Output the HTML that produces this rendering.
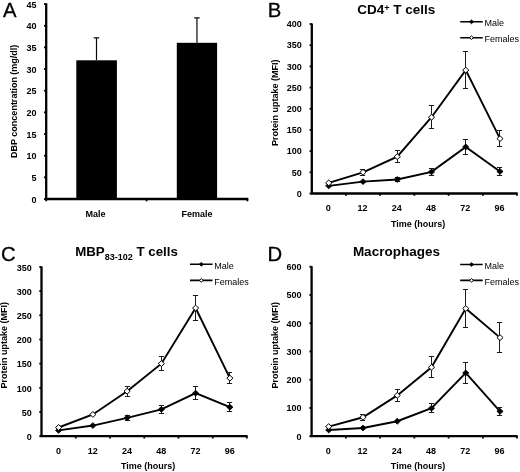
<!DOCTYPE html>
<html><head><meta charset="utf-8"><title>Figure</title>
<style>
html,body{margin:0;padding:0;background:#fff;}
body{width:520px;height:472px;overflow:hidden;}
svg{display:block;font-family:"Liberation Sans", sans-serif;fill:#000;will-change:transform;opacity:0.999;}
</style></head><body>
<svg width="520" height="472" viewBox="0 0 520 472">
<rect width="520" height="472" fill="#fff"/>
<text x="3" y="16.7" font-size="20.3" font-weight="normal" text-anchor="start" stroke="#000" stroke-width="0.3">A</text>
<rect x="76.3" y="60.3" width="40.6" height="138.70" fill="#000"/>
<rect x="176.8" y="42.8" width="40.3" height="156.20" fill="#000"/>
<path d="M96.50 37.90V60.30M93.80 37.90H99.20" stroke="#0a0a0a" stroke-width="1.2" fill="none"/>
<path d="M196.95 17.90V42.80M194.25 17.90H199.65" stroke="#0a0a0a" stroke-width="1.2" fill="none"/>
<path d="M46.2 3.2V200.1M45.1 199H248.3" stroke="#000" stroke-width="2.3" fill="none"/>
<path d="M44 199.00H46.2" stroke="#000" stroke-width="1.8"/>
<text x="36.6" y="202.6" font-size="9" font-weight="bold" text-anchor="end" >0</text>
<path d="M44 177.34H46.2" stroke="#000" stroke-width="1.8"/>
<text x="36.6" y="180.94" font-size="9" font-weight="bold" text-anchor="end" >5</text>
<path d="M44 155.69H46.2" stroke="#000" stroke-width="1.8"/>
<text x="36.6" y="159.29" font-size="9" font-weight="bold" text-anchor="end" >10</text>
<path d="M44 134.03H46.2" stroke="#000" stroke-width="1.8"/>
<text x="36.6" y="137.63" font-size="9" font-weight="bold" text-anchor="end" >15</text>
<path d="M44 112.38H46.2" stroke="#000" stroke-width="1.8"/>
<text x="36.6" y="115.98" font-size="9" font-weight="bold" text-anchor="end" >20</text>
<path d="M44 90.72H46.2" stroke="#000" stroke-width="1.8"/>
<text x="36.6" y="94.32" font-size="9" font-weight="bold" text-anchor="end" >25</text>
<path d="M44 69.07H46.2" stroke="#000" stroke-width="1.8"/>
<text x="36.6" y="72.67" font-size="9" font-weight="bold" text-anchor="end" >30</text>
<path d="M44 47.41H46.2" stroke="#000" stroke-width="1.8"/>
<text x="36.6" y="51.01" font-size="9" font-weight="bold" text-anchor="end" >35</text>
<path d="M44 25.76H46.2" stroke="#000" stroke-width="1.8"/>
<text x="36.6" y="29.36" font-size="9" font-weight="bold" text-anchor="end" >40</text>
<path d="M44 4.10H46.2" stroke="#000" stroke-width="1.8"/>
<text x="36.6" y="7.7" font-size="9" font-weight="bold" text-anchor="end" >45</text>
<path d="M46.2 199V201.3" stroke="#000" stroke-width="1.8"/>
<path d="M146.6 199V201.3" stroke="#000" stroke-width="1.8"/>
<path d="M247.4 199V201.3" stroke="#000" stroke-width="1.8"/>
<text x="95.4" y="216.9" font-size="9" font-weight="bold" text-anchor="middle" >Male</text>
<text x="197" y="216.9" font-size="9" font-weight="bold" text-anchor="middle" >Female</text>
<text x="0" y="0" font-size="9" font-weight="bold" text-anchor="middle" transform="translate(17.2 101.3) rotate(-90)">DBP concentration (mg/dl)</text>
<text x="267.8" y="17" font-size="20.3" font-weight="normal" text-anchor="start" stroke="#000" stroke-width="0.3">B</text>
<text x="396.3" y="13.7" font-size="13.5" font-weight="bold" text-anchor="middle" >CD4<tspan font-size="9" dy="-2.5">+</tspan><tspan dy="2.5"> T cells</tspan></text>
<path d="M311.8 23.5V194.6M310.7 193.5H517.72" stroke="#000" stroke-width="2.3" fill="none"/>
<path d="M309.6 193.50H311.8" stroke="#000" stroke-width="1.8"/>
<text x="301.8" y="196.8" font-size="9" font-weight="bold" text-anchor="end" >0</text>
<path d="M309.6 172.31H311.8" stroke="#000" stroke-width="1.8"/>
<text x="301.8" y="175.61" font-size="9" font-weight="bold" text-anchor="end" >50</text>
<path d="M309.6 151.12H311.8" stroke="#000" stroke-width="1.8"/>
<text x="301.8" y="154.42" font-size="9" font-weight="bold" text-anchor="end" >100</text>
<path d="M309.6 129.94H311.8" stroke="#000" stroke-width="1.8"/>
<text x="301.8" y="133.24" font-size="9" font-weight="bold" text-anchor="end" >150</text>
<path d="M309.6 108.75H311.8" stroke="#000" stroke-width="1.8"/>
<text x="301.8" y="112.05" font-size="9" font-weight="bold" text-anchor="end" >200</text>
<path d="M309.6 87.56H311.8" stroke="#000" stroke-width="1.8"/>
<text x="301.8" y="90.86" font-size="9" font-weight="bold" text-anchor="end" >250</text>
<path d="M309.6 66.38H311.8" stroke="#000" stroke-width="1.8"/>
<text x="301.8" y="69.67" font-size="9" font-weight="bold" text-anchor="end" >300</text>
<path d="M309.6 45.19H311.8" stroke="#000" stroke-width="1.8"/>
<text x="301.8" y="48.49" font-size="9" font-weight="bold" text-anchor="end" >350</text>
<path d="M309.6 24.00H311.8" stroke="#000" stroke-width="1.8"/>
<text x="301.8" y="27.3" font-size="9" font-weight="bold" text-anchor="end" >400</text>
<path d="M345.87 193.5V195.8" stroke="#000" stroke-width="1.8"/>
<path d="M380.12 193.5V195.8" stroke="#000" stroke-width="1.8"/>
<path d="M414.37 193.5V195.8" stroke="#000" stroke-width="1.8"/>
<path d="M448.62 193.5V195.8" stroke="#000" stroke-width="1.8"/>
<path d="M482.87 193.5V195.8" stroke="#000" stroke-width="1.8"/>
<path d="M516.92 193.5V195.8" stroke="#000" stroke-width="1.8"/>
<text x="328.35" y="211.3" font-size="9" font-weight="bold" text-anchor="middle" >0</text>
<text x="362.6" y="211.3" font-size="9" font-weight="bold" text-anchor="middle" >12</text>
<text x="396.85" y="211.3" font-size="9" font-weight="bold" text-anchor="middle" >24</text>
<text x="431.1" y="211.3" font-size="9" font-weight="bold" text-anchor="middle" >48</text>
<text x="465.35" y="211.3" font-size="9" font-weight="bold" text-anchor="middle" >72</text>
<text x="499.6" y="211.3" font-size="9" font-weight="bold" text-anchor="middle" >96</text>
<text x="418.2" y="226.6" font-size="9" font-weight="bold" text-anchor="middle" >Time (hours)</text>
<text x="0" y="0" font-size="9" font-weight="bold" text-anchor="middle" transform="translate(277.8 102.8) rotate(-90)">Protein uptake (MFI)</text>
<polyline points="328.75,185.87 363.00,181.63 397.25,179.52 431.50,171.89 465.75,146.89 500.00,171.47" fill="none" stroke="#000" stroke-width="1.9" stroke-linejoin="miter"/>
<polyline points="328.75,182.91 363.00,172.31 397.25,156.63 431.50,117.22 465.75,70.19 500.00,138.62" fill="none" stroke="#000" stroke-width="1.9" stroke-linejoin="miter"/>
<path d="M397.50 177.50V181.50M394.90 177.50H400.10M394.90 181.50H400.10" stroke="#1c1c1c" stroke-width="1" fill="none"/>
<path d="M431.50 168.50V175.50M428.90 168.50H434.10M428.90 175.50H434.10" stroke="#1c1c1c" stroke-width="1" fill="none"/>
<path d="M465.50 139.50V154.50M462.90 139.50H468.10M462.90 154.50H468.10" stroke="#1c1c1c" stroke-width="1" fill="none"/>
<path d="M499.50 167.50V175.50M496.90 167.50H502.10M496.90 175.50H502.10" stroke="#1c1c1c" stroke-width="1" fill="none"/>
<polygon points="325.64,185.87 328.75,182.97 331.85,185.87 328.75,188.77" fill="#000" stroke="#000" stroke-width="0.8"/>
<polygon points="359.89,181.63 363.00,178.73 366.10,181.63 363.00,184.53" fill="#000" stroke="#000" stroke-width="0.8"/>
<polygon points="394.14,179.52 397.25,176.62 400.35,179.52 397.25,182.42" fill="#000" stroke="#000" stroke-width="0.8"/>
<polygon points="428.39,171.89 431.50,168.99 434.60,171.89 431.50,174.79" fill="#000" stroke="#000" stroke-width="0.8"/>
<polygon points="462.64,146.89 465.75,143.99 468.85,146.89 465.75,149.79" fill="#000" stroke="#000" stroke-width="0.8"/>
<polygon points="496.89,171.47 500.00,168.56 503.10,171.47 500.00,174.37" fill="#000" stroke="#000" stroke-width="0.8"/>
<path d="M362.50 169.50V175.50M359.90 169.50H365.10M359.90 175.50H365.10" stroke="#1c1c1c" stroke-width="1" fill="none"/>
<path d="M397.50 150.50V162.50M394.90 150.50H400.10M394.90 162.50H400.10" stroke="#1c1c1c" stroke-width="1" fill="none"/>
<path d="M431.50 105.50V128.50M428.90 105.50H434.10M428.90 128.50H434.10" stroke="#1c1c1c" stroke-width="1" fill="none"/>
<path d="M465.50 51.50V88.50M462.90 51.50H468.10M462.90 88.50H468.10" stroke="#1c1c1c" stroke-width="1" fill="none"/>
<path d="M499.50 130.50V146.50M496.90 130.50H502.10M496.90 146.50H502.10" stroke="#1c1c1c" stroke-width="1" fill="none"/>
<polygon points="325.64,182.91 328.75,180.01 331.85,182.91 328.75,185.81" fill="#fff" stroke="#000" stroke-width="1"/>
<polygon points="359.89,172.31 363.00,169.41 366.10,172.31 363.00,175.21" fill="#fff" stroke="#000" stroke-width="1"/>
<polygon points="394.14,156.63 397.25,153.73 400.35,156.63 397.25,159.53" fill="#fff" stroke="#000" stroke-width="1"/>
<polygon points="428.39,117.22 431.50,114.32 434.60,117.22 431.50,120.12" fill="#fff" stroke="#000" stroke-width="1"/>
<polygon points="462.64,70.19 465.75,67.29 468.85,70.19 465.75,73.09" fill="#fff" stroke="#000" stroke-width="1"/>
<polygon points="496.89,138.62 500.00,135.72 503.10,138.62 500.00,141.52" fill="#fff" stroke="#000" stroke-width="1"/>
<path d="M460.2 21.8H482.7M460.2 37.7H482.7" stroke="#000" stroke-width="1.6"/>
<polygon points="469.40,21.80 471.50,19.90 473.60,21.80 471.50,23.70" fill="#000" stroke="#000" stroke-width="0.8"/>
<polygon points="469.60,37.70 471.50,35.90 473.40,37.70 471.50,39.50" fill="#fff" stroke="#000" stroke-width="1"/>
<text x="484.4" y="26.25" font-size="9" font-weight="normal" text-anchor="start" fill="#000">Male</text>
<text x="484.4" y="42.150000000000006" font-size="9" font-weight="normal" text-anchor="start" fill="#000">Females</text>
<text x="1" y="261.4" font-size="20.3" font-weight="normal" text-anchor="start" stroke="#000" stroke-width="0.3">C</text>
<text x="126.5" y="256.2" font-size="13.3" font-weight="bold" text-anchor="middle" >MBP<tspan font-size="9" dy="3.3">83-102</tspan><tspan dy="-3.3"> T cells</tspan></text>
<path d="M41.5 266.4V437.3M40.4 436.2H247.60" stroke="#000" stroke-width="2.3" fill="none"/>
<path d="M39.3 436.20H41.5" stroke="#000" stroke-width="1.8"/>
<text x="31.8" y="439.9" font-size="9" font-weight="bold" text-anchor="end" >0</text>
<path d="M39.3 412.01H41.5" stroke="#000" stroke-width="1.8"/>
<text x="31.8" y="415.71" font-size="9" font-weight="bold" text-anchor="end" >50</text>
<path d="M39.3 387.83H41.5" stroke="#000" stroke-width="1.8"/>
<text x="31.8" y="391.53" font-size="9" font-weight="bold" text-anchor="end" >100</text>
<path d="M39.3 363.64H41.5" stroke="#000" stroke-width="1.8"/>
<text x="31.8" y="367.34" font-size="9" font-weight="bold" text-anchor="end" >150</text>
<path d="M39.3 339.46H41.5" stroke="#000" stroke-width="1.8"/>
<text x="31.8" y="343.16" font-size="9" font-weight="bold" text-anchor="end" >200</text>
<path d="M39.3 315.27H41.5" stroke="#000" stroke-width="1.8"/>
<text x="31.8" y="318.97" font-size="9" font-weight="bold" text-anchor="end" >250</text>
<path d="M39.3 291.09H41.5" stroke="#000" stroke-width="1.8"/>
<text x="31.8" y="294.79" font-size="9" font-weight="bold" text-anchor="end" >300</text>
<path d="M39.3 266.90H41.5" stroke="#000" stroke-width="1.8"/>
<text x="31.8" y="270.6" font-size="9" font-weight="bold" text-anchor="end" >350</text>
<path d="M75.75 436.2V438.5" stroke="#000" stroke-width="1.8"/>
<path d="M110.00 436.2V438.5" stroke="#000" stroke-width="1.8"/>
<path d="M144.25 436.2V438.5" stroke="#000" stroke-width="1.8"/>
<path d="M178.50 436.2V438.5" stroke="#000" stroke-width="1.8"/>
<path d="M212.75 436.2V438.5" stroke="#000" stroke-width="1.8"/>
<path d="M246.80 436.2V438.5" stroke="#000" stroke-width="1.8"/>
<text x="58.62" y="454.2" font-size="9" font-weight="bold" text-anchor="middle" >0</text>
<text x="92.88" y="454.2" font-size="9" font-weight="bold" text-anchor="middle" >12</text>
<text x="127.12" y="454.2" font-size="9" font-weight="bold" text-anchor="middle" >24</text>
<text x="161.38" y="454.2" font-size="9" font-weight="bold" text-anchor="middle" >48</text>
<text x="195.62" y="454.2" font-size="9" font-weight="bold" text-anchor="middle" >72</text>
<text x="229.88" y="454.2" font-size="9" font-weight="bold" text-anchor="middle" >96</text>
<text x="148.2" y="469" font-size="9" font-weight="bold" text-anchor="middle" >Time (hours)</text>
<text x="0" y="0" font-size="9" font-weight="bold" text-anchor="middle" transform="translate(6.9 345.3) rotate(-90)">Protein uptake (MFI)</text>
<polyline points="58.62,430.40 92.88,425.56 127.12,417.82 161.38,409.35 195.62,393.15 229.88,407.18" fill="none" stroke="#000" stroke-width="1.9" stroke-linejoin="miter"/>
<polyline points="58.62,427.49 92.88,414.43 127.12,391.21 161.38,363.64 195.62,308.02 229.88,378.15" fill="none" stroke="#000" stroke-width="1.9" stroke-linejoin="miter"/>
<path d="M127.50 415.50V420.50M124.90 415.50H130.10M124.90 420.50H130.10" stroke="#1c1c1c" stroke-width="1" fill="none"/>
<path d="M161.50 405.50V413.50M158.90 405.50H164.10M158.90 413.50H164.10" stroke="#1c1c1c" stroke-width="1" fill="none"/>
<path d="M195.50 386.50V399.50M192.90 386.50H198.10M192.90 399.50H198.10" stroke="#1c1c1c" stroke-width="1" fill="none"/>
<path d="M229.50 402.50V411.50M226.90 402.50H232.10M226.90 411.50H232.10" stroke="#1c1c1c" stroke-width="1" fill="none"/>
<polygon points="55.52,430.40 58.62,427.50 61.73,430.40 58.62,433.30" fill="#000" stroke="#000" stroke-width="0.8"/>
<polygon points="89.78,425.56 92.88,422.66 95.97,425.56 92.88,428.46" fill="#000" stroke="#000" stroke-width="0.8"/>
<polygon points="124.03,417.82 127.12,414.92 130.22,417.82 127.12,420.72" fill="#000" stroke="#000" stroke-width="0.8"/>
<polygon points="158.28,409.35 161.38,406.45 164.47,409.35 161.38,412.25" fill="#000" stroke="#000" stroke-width="0.8"/>
<polygon points="192.53,393.15 195.62,390.25 198.72,393.15 195.62,396.05" fill="#000" stroke="#000" stroke-width="0.8"/>
<polygon points="226.78,407.18 229.88,404.28 232.97,407.18 229.88,410.08" fill="#000" stroke="#000" stroke-width="0.8"/>
<path d="M127.50 386.50V396.50M124.90 386.50H130.10M124.90 396.50H130.10" stroke="#1c1c1c" stroke-width="1" fill="none"/>
<path d="M161.50 356.50V370.50M158.90 356.50H164.10M158.90 370.50H164.10" stroke="#1c1c1c" stroke-width="1" fill="none"/>
<path d="M195.50 295.50V320.50M192.90 295.50H198.10M192.90 320.50H198.10" stroke="#1c1c1c" stroke-width="1" fill="none"/>
<path d="M229.50 372.50V383.50M226.90 372.50H232.10M226.90 383.50H232.10" stroke="#1c1c1c" stroke-width="1" fill="none"/>
<polygon points="55.52,427.49 58.62,424.59 61.73,427.49 58.62,430.39" fill="#fff" stroke="#000" stroke-width="1"/>
<polygon points="89.78,414.43 92.88,411.53 95.97,414.43 92.88,417.33" fill="#fff" stroke="#000" stroke-width="1"/>
<polygon points="124.03,391.21 127.12,388.31 130.22,391.21 127.12,394.11" fill="#fff" stroke="#000" stroke-width="1"/>
<polygon points="158.28,363.64 161.38,360.74 164.47,363.64 161.38,366.54" fill="#fff" stroke="#000" stroke-width="1"/>
<polygon points="192.53,308.02 195.62,305.12 198.72,308.02 195.62,310.92" fill="#fff" stroke="#000" stroke-width="1"/>
<polygon points="226.78,378.15 229.88,375.25 232.97,378.15 229.88,381.05" fill="#fff" stroke="#000" stroke-width="1"/>
<path d="M190.0 264.3H212.5M190.0 280.4H212.5" stroke="#000" stroke-width="1.6"/>
<polygon points="199.20,264.30 201.30,262.40 203.40,264.30 201.30,266.20" fill="#000" stroke="#000" stroke-width="0.8"/>
<polygon points="199.40,280.40 201.30,278.60 203.20,280.40 201.30,282.20" fill="#fff" stroke="#000" stroke-width="1"/>
<text x="214.2" y="268.8" font-size="9" font-weight="normal" text-anchor="start" fill="#000">Male</text>
<text x="214.2" y="284.9" font-size="9" font-weight="normal" text-anchor="start" fill="#000">Females</text>
<text x="267.6" y="260.6" font-size="20.3" font-weight="normal" text-anchor="start" stroke="#000" stroke-width="0.3">D</text>
<text x="396.4" y="255.6" font-size="13.5" font-weight="bold" text-anchor="middle" >Macrophages</text>
<path d="M311.6 266.2V437.3M310.5 436.2H517.72" stroke="#000" stroke-width="2.3" fill="none"/>
<path d="M309.40000000000003 436.20H311.6" stroke="#000" stroke-width="1.8"/>
<text x="301.6" y="439.7" font-size="9" font-weight="bold" text-anchor="end" >0</text>
<path d="M309.40000000000003 407.95H311.6" stroke="#000" stroke-width="1.8"/>
<text x="301.6" y="411.45" font-size="9" font-weight="bold" text-anchor="end" >100</text>
<path d="M309.40000000000003 379.70H311.6" stroke="#000" stroke-width="1.8"/>
<text x="301.6" y="383.2" font-size="9" font-weight="bold" text-anchor="end" >200</text>
<path d="M309.40000000000003 351.45H311.6" stroke="#000" stroke-width="1.8"/>
<text x="301.6" y="354.95" font-size="9" font-weight="bold" text-anchor="end" >300</text>
<path d="M309.40000000000003 323.20H311.6" stroke="#000" stroke-width="1.8"/>
<text x="301.6" y="326.7" font-size="9" font-weight="bold" text-anchor="end" >400</text>
<path d="M309.40000000000003 294.95H311.6" stroke="#000" stroke-width="1.8"/>
<text x="301.6" y="298.45" font-size="9" font-weight="bold" text-anchor="end" >500</text>
<path d="M309.40000000000003 266.70H311.6" stroke="#000" stroke-width="1.8"/>
<text x="301.6" y="270.2" font-size="9" font-weight="bold" text-anchor="end" >600</text>
<path d="M345.87 436.2V438.5" stroke="#000" stroke-width="1.8"/>
<path d="M380.12 436.2V438.5" stroke="#000" stroke-width="1.8"/>
<path d="M414.37 436.2V438.5" stroke="#000" stroke-width="1.8"/>
<path d="M448.62 436.2V438.5" stroke="#000" stroke-width="1.8"/>
<path d="M482.87 436.2V438.5" stroke="#000" stroke-width="1.8"/>
<path d="M516.92 436.2V438.5" stroke="#000" stroke-width="1.8"/>
<text x="328.35" y="454.2" font-size="9" font-weight="bold" text-anchor="middle" >0</text>
<text x="362.6" y="454.2" font-size="9" font-weight="bold" text-anchor="middle" >12</text>
<text x="396.85" y="454.2" font-size="9" font-weight="bold" text-anchor="middle" >24</text>
<text x="431.1" y="454.2" font-size="9" font-weight="bold" text-anchor="middle" >48</text>
<text x="465.35" y="454.2" font-size="9" font-weight="bold" text-anchor="middle" >72</text>
<text x="499.6" y="454.2" font-size="9" font-weight="bold" text-anchor="middle" >96</text>
<text x="418" y="468.6" font-size="9" font-weight="bold" text-anchor="middle" >Time (hours)</text>
<text x="0" y="0" font-size="9" font-weight="bold" text-anchor="middle" transform="translate(277.8 345.3) rotate(-90)">Protein uptake (MFI)</text>
<polyline points="328.75,429.99 363.00,428.01 397.25,421.23 431.50,408.23 465.75,372.92 500.00,411.34" fill="none" stroke="#000" stroke-width="1.9" stroke-linejoin="miter"/>
<polyline points="328.75,426.59 363.00,417.27 397.25,395.38 431.50,367.27 465.75,308.51 500.00,337.61" fill="none" stroke="#000" stroke-width="1.9" stroke-linejoin="miter"/>
<path d="M431.50 403.50V412.50M428.90 403.50H434.10M428.90 412.50H434.10" stroke="#1c1c1c" stroke-width="1" fill="none"/>
<path d="M465.50 362.50V383.50M462.90 362.50H468.10M462.90 383.50H468.10" stroke="#1c1c1c" stroke-width="1" fill="none"/>
<path d="M499.50 407.50V415.50M496.90 407.50H502.10M496.90 415.50H502.10" stroke="#1c1c1c" stroke-width="1" fill="none"/>
<polygon points="325.64,429.99 328.75,427.09 331.85,429.99 328.75,432.88" fill="#000" stroke="#000" stroke-width="0.8"/>
<polygon points="359.89,428.01 363.00,425.11 366.10,428.01 363.00,430.91" fill="#000" stroke="#000" stroke-width="0.8"/>
<polygon points="394.14,421.23 397.25,418.33 400.35,421.23 397.25,424.13" fill="#000" stroke="#000" stroke-width="0.8"/>
<polygon points="428.39,408.23 431.50,405.33 434.60,408.23 431.50,411.13" fill="#000" stroke="#000" stroke-width="0.8"/>
<polygon points="462.64,372.92 465.75,370.02 468.85,372.92 465.75,375.82" fill="#000" stroke="#000" stroke-width="0.8"/>
<polygon points="496.89,411.34 500.00,408.44 503.10,411.34 500.00,414.24" fill="#000" stroke="#000" stroke-width="0.8"/>
<path d="M362.50 414.50V420.50M359.90 414.50H365.10M359.90 420.50H365.10" stroke="#1c1c1c" stroke-width="1" fill="none"/>
<path d="M397.50 389.50V401.50M394.90 389.50H400.10M394.90 401.50H400.10" stroke="#1c1c1c" stroke-width="1" fill="none"/>
<path d="M431.50 356.50V377.50M428.90 356.50H434.10M428.90 377.50H434.10" stroke="#1c1c1c" stroke-width="1" fill="none"/>
<path d="M465.50 289.50V327.50M462.90 289.50H468.10M462.90 327.50H468.10" stroke="#1c1c1c" stroke-width="1" fill="none"/>
<path d="M499.50 322.50V352.50M496.90 322.50H502.10M496.90 352.50H502.10" stroke="#1c1c1c" stroke-width="1" fill="none"/>
<polygon points="325.64,426.59 328.75,423.69 331.85,426.59 328.75,429.49" fill="#fff" stroke="#000" stroke-width="1"/>
<polygon points="359.89,417.27 363.00,414.37 366.10,417.27 363.00,420.17" fill="#fff" stroke="#000" stroke-width="1"/>
<polygon points="394.14,395.38 397.25,392.48 400.35,395.38 397.25,398.28" fill="#fff" stroke="#000" stroke-width="1"/>
<polygon points="428.39,367.27 431.50,364.37 434.60,367.27 431.50,370.17" fill="#fff" stroke="#000" stroke-width="1"/>
<polygon points="462.64,308.51 465.75,305.61 468.85,308.51 465.75,311.41" fill="#fff" stroke="#000" stroke-width="1"/>
<polygon points="496.89,337.61 500.00,334.71 503.10,337.61 500.00,340.51" fill="#fff" stroke="#000" stroke-width="1"/>
<path d="M460.2 264.5H482.7M460.2 280.4H482.7" stroke="#000" stroke-width="1.6"/>
<polygon points="469.40,264.50 471.50,262.60 473.60,264.50 471.50,266.40" fill="#000" stroke="#000" stroke-width="0.8"/>
<polygon points="469.60,280.40 471.50,278.60 473.40,280.40 471.50,282.20" fill="#fff" stroke="#000" stroke-width="1"/>
<text x="484.4" y="269.3" font-size="9" font-weight="normal" text-anchor="start" fill="#000">Male</text>
<text x="484.4" y="285.2" font-size="9" font-weight="normal" text-anchor="start" fill="#000">Females</text>
</svg>
</body></html>
